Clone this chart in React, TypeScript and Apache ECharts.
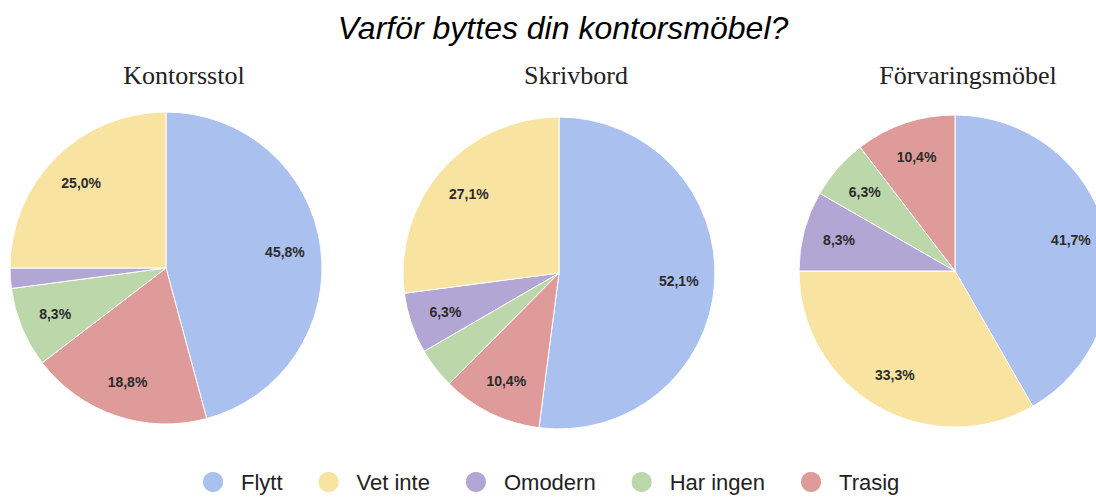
import React, { useEffect, useRef } from "react";
import * as echarts from "echarts";

const categories = ["Flytt", "Vet inte", "Omodern", "Har ingen", "Trasig"];
const categoryColors = ["#aac0ee", "#f9e3a0", "#b1a6d4", "#bcd7aa", "#de9b9a"];

const pieTitles = ["Kontorsstol", "Skrivbord", "Förvaringsmöbel"];

const kontorsstolNames = ["Flytt", "Trasig", "Har ingen", "Omodern", "Vet inte"];
const kontorsstolValues = [45.8, 18.8, 8.3, 2.1, 25.0];

const skrivbordNames = ["Flytt", "Trasig", "Har ingen", "Omodern", "Vet inte"];
const skrivbordValues = [52.1, 10.4, 4.2, 6.3, 27.1];

const forvaringNames = ["Flytt", "Vet inte", "Omodern", "Har ingen", "Trasig"];
const forvaringValues = [41.7, 33.3, 8.3, 6.3, 10.4];

const mainTitle = "Varför byttes din kontorsmöbel?";

const pieCenters: [number, number][] = [
  [166, 268],
  [559, 273],
  [955, 271],
];
const titleCenters: [number, number][] = [
  [184, 75],
  [576, 75],
  [968, 75],
];
const R = 156;
const LABEL_MIN = 5;

function colorOf(name: string) {
  return categoryColors[categories.indexOf(name)];
}

function fmt(v: number) {
  return v.toFixed(1).replace(".", ",") + "%";
}

export default function App() {
  const ref = useRef<HTMLDivElement>(null);
  useEffect(() => {
    if (!ref.current) return;
    const chart = echarts.init(ref.current, undefined, { renderer: "svg" });
    const pies = [
      { names: kontorsstolNames, values: kontorsstolValues },
      { names: skrivbordNames, values: skrivbordValues },
      { names: forvaringNames, values: forvaringValues },
    ];
    const series: any[] = [];
    pies.forEach((p, i) => {
      const data = p.names.map((n, j) => ({
        name: n,
        value: p.values[j],
        itemStyle: { color: colorOf(n) },
      }));
      series.push({
        type: "pie",
        center: pieCenters[i],
        radius: [0, R],
        startAngle: 90,
        clockwise: true,
        silent: true,
        label: { show: false },
        labelLine: { show: false },
        itemStyle: { borderColor: "#ffffff", borderWidth: 1 },
        data,
      });
      series.push({
        type: "pie",
        center: pieCenters[i],
        radius: [R * 0.5, R],
        startAngle: 90,
        clockwise: true,
        silent: true,
        legendHoverLink: false,
        itemStyle: { color: "rgba(0,0,0,0)", borderWidth: 0 },
        label: {
          show: true,
          position: "inside",
          fontFamily: "Liberation Sans, Arial, sans-serif",
          fontSize: 14,
          fontWeight: "bold",
          color: "#2b2b2b",
          formatter: (params: any) =>
            params.value < LABEL_MIN ? "" : fmt(params.value),
        },
        labelLine: { show: false },
        data: p.names.map((n, j) => ({ name: n, value: p.values[j] })),
      });
    });

    const graphics: any[] = [
      {
        type: "text",
        x: 563,
        y: 28,
        style: {
          text: mainTitle,
          fontFamily: "Liberation Sans, Arial, sans-serif",
          fontSize: 32,
          fontStyle: "italic",
          fill: "#000000",
          textAlign: "center",
          textVerticalAlign: "middle",
        },
      },
      ...pieTitles.map((t, i) => ({
        type: "text",
        x: titleCenters[i][0],
        y: titleCenters[i][1],
        style: {
          text: t,
          fontFamily: "Liberation Serif, Times New Roman, serif",
          fontSize: 26,
          fill: "#222222",
          textAlign: "center",
          textVerticalAlign: "middle",
        },
      })),
    ];

    chart.setOption({
      animation: false,
      backgroundColor: "#ffffff",
      legend: {
        left: 201,
        top: 470,
        padding: 0,
        orient: "horizontal",
        icon: "circle",
        itemWidth: 22,
        itemHeight: 22,
        itemGap: 34,
        selectedMode: false,
        data: categories.map((c, i) => ({
          name: c,
          itemStyle: { color: categoryColors[i] },
        })),
        textStyle: {
          fontFamily: "Liberation Sans, Arial, sans-serif",
          fontSize: 22,
          lineHeight: 24,
          color: "#222222",
          padding: [0, 0, 0, 12],
        },
      },
      graphic: graphics,
      series,
    });
    return () => chart.dispose();
  }, []);
  return (
    <div
      ref={ref}
      style={{
        position: "fixed",
        left: 0,
        top: 0,
        width: 1096,
        height: 499,
        background: "#ffffff",
      }}
    />
  );
}
